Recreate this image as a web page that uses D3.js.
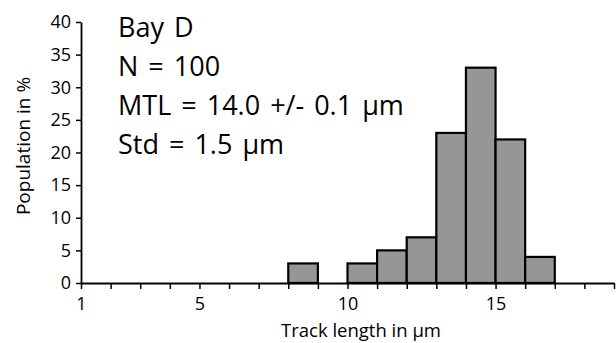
<!DOCTYPE html>
<html><head><meta charset="utf-8">
<script src="https://cdn.jsdelivr.net/npm/d3@7"></script>
<style>body{margin:0;background:#fff}svg{display:block}text{font-family:"Open Sans",sans-serif}</style>
</head><body><svg id="c" width="616" height="343"></svg>
<script>
const binStarts = [8, 10, 11, 12, 13, 14, 15, 16];
const binEnds   = [9, 11, 12, 13, 14, 15, 16, 17];
const population = [3, 3, 5, 7, 23, 33, 22, 4];
const xTicks = d3.range(1, 20);
const xTickLabels = [1, 5, 10, 15];
const yTicks = [0, 5, 10, 15, 20, 25, 30, 35, 40];
const annotation = ["Bay D", "N = 100", "MTL = 14.0 +/- 0.1 \u03bcm", "Std = 1.5 \u03bcm"];

const svg = d3.select("#c");
const x = d3.scaleLinear().domain([1, 19]).range([81, 614]);
const y = d3.scaleLinear().domain([0, 40]).range([283, 22]);

svg.append("g").selectAll("rect").data(population).join("rect")
  .attr("x", (d, i) => x(binStarts[i]))
  .attr("width", (d, i) => x(binEnds[i]) - x(binStarts[i]))
  .attr("y", d => y(d))
  .attr("height", d => y(0) - y(d))
  .attr("fill", "#969696").attr("stroke", "#000").attr("stroke-width", 2.2);

const xa = svg.append("g").attr("transform", `translate(0,${y(0)})`)
  .call(d3.axisBottom(x).tickValues(xTicks).tickSize(6).tickSizeOuter(0)
    .tickFormat(d => xTickLabels.includes(d) ? d : ""));
xa.select(".domain").attr("stroke-width", 1.8);
xa.selectAll(".tick line").attr("stroke-width", 1.5);
xa.selectAll("text").attr("font-size", 18).attr("fill", "#000").attr("dy", 0).attr("y", 27);

const ya = svg.append("g").attr("transform", `translate(${x(1)},0)`)
  .call(d3.axisLeft(y).tickValues(yTicks).tickSize(5).tickSizeOuter(0));
ya.select(".domain").attr("stroke-width", 1.8);
ya.selectAll(".tick line").attr("stroke-width", 1.5);
ya.selectAll("text").attr("font-size", 18).attr("fill", "#000").attr("x", -10);

svg.append("text").attr("x", 361).attr("y", 337).attr("text-anchor", "middle")
  .attr("font-size", 18.5).text("Track length in \u03bcm");
svg.append("text").attr("transform", "translate(30,146) rotate(-90)").attr("text-anchor", "middle")
  .attr("font-size", 19).text("Population in %");

svg.append("g").selectAll("text").data(annotation).join("text")
  .attr("x", 118).attr("y", (d, i) => 37 + i * 39)
  .attr("font-size", 27).attr("word-spacing", 3).text(d => d);
</script></body></html>
